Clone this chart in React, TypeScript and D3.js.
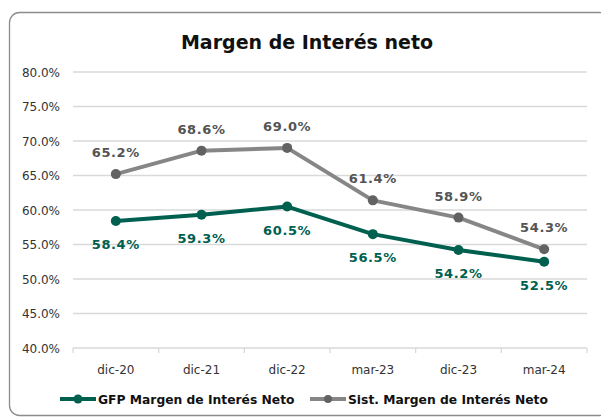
import React from "react";
import * as d3 from "d3";

const categories = ["dic-20", "dic-21", "dic-22", "mar-23", "dic-23", "mar-24"];
const gfpValues = [58.4, 59.3, 60.5, 56.5, 54.2, 52.5];
const sistValues = [65.2, 68.6, 69.0, 61.4, 58.9, 54.3];
const yTicks = [40, 45, 50, 55, 60, 65, 70, 75, 80];
const seriesNames = ["GFP Margen de Interés Neto", "Sist. Margen de Interés Neto"];
const title = "Margen de Interés neto";

const W = 601;
const H = 417;
const GREEN = "#00604F";
const GREY_LINE = "#868686";
const GREY_MARK = "#626262";
const GREY_TEXT = "#545454";
const FONT = "'DejaVu Sans', sans-serif";

export default function App() {
  const x = d3.scaleBand<string>().domain(categories).range([73, 587]);
  const y = d3.scaleLinear().domain([40, 80]).range([348, 72]);
  const cx = (c: string) => (x(c) ?? 0) + x.bandwidth() / 2;
  const line = d3
    .line<number>()
    .x((_, i) => cx(categories[i]))
    .y((d) => y(d));

  const series = [
    { name: seriesNames[0], values: gfpValues, line: GREEN, mark: GREEN, text: GREEN, above: false },
    { name: seriesNames[1], values: sistValues, line: GREY_LINE, mark: GREY_MARK, text: GREY_TEXT, above: true },
  ];

  const ticksX = [...categories.map((c) => x(c) ?? 0), 587];

  return (
    <div style={{ position: "fixed", left: 0, top: 0, width: W, height: H, background: "#fff" }}>
      <svg width={W} height={H} style={{ display: "block", fontFamily: FONT }}>
        <rect x={0} y={0} width={W} height={H} fill="#fff" />
        <rect x={9.5} y={12.5} width={600} height={403} rx={10} ry={10} fill="#fff" stroke="#8c8c8c" strokeWidth={1.3} />
        <text x={307} y={49} textAnchor="middle" fontSize={19} fontWeight="bold" fill="#111">
          {title}
        </text>
        {yTicks.map((t) => (
          <g key={t}>
            <line x1={73} x2={587} y1={y(t)} y2={y(t)} stroke="#d9d9d9" strokeWidth={1.3} />
            <text x={60} y={y(t) + 4.5} textAnchor="end" fontSize={12} fill="#333">
              {t.toFixed(1) + "%"}
            </text>
          </g>
        ))}
        {ticksX.map((tx, i) => (
          <line key={i} x1={tx} x2={tx} y1={348} y2={353} stroke="#d9d9d9" strokeWidth={1.3} />
        ))}
        {categories.map((c) => (
          <text key={c} x={cx(c)} y={374} textAnchor="middle" fontSize={12} fill="#333">
            {c}
          </text>
        ))}
        {series.map((s) => (
          <g key={s.name}>
            <path d={line(s.values) ?? ""} fill="none" stroke={s.line} strokeWidth={4} strokeLinejoin="round" strokeLinecap="round" />
            {s.values.map((v, i) => (
              <circle key={i} cx={cx(categories[i])} cy={y(v)} r={5} fill={s.mark} />
            ))}
            {s.values.map((v, i) => (
              <text
                key={"l" + i}
                x={cx(categories[i])}
                y={s.above ? y(v) - 17 : y(v) + 28}
                textAnchor="middle"
                fontSize={13}
                fontWeight="bold"
                letterSpacing={0.6}
                fill={s.text}
              >
                {v.toFixed(1) + "%"}
              </text>
            ))}
          </g>
        ))}
        <g>
          <line x1={60} x2={96} y1={399} y2={399} stroke={GREEN} strokeWidth={4} />
          <circle cx={78} cy={399} r={4.5} fill={GREEN} />
          <text x={98} y={403.5} fontSize={12.3} fontWeight="bold" fill="#111">
            {seriesNames[0]}
          </text>
          <line x1={310} x2={346} y1={399} y2={399} stroke={GREY_LINE} strokeWidth={4} />
          <circle cx={328} cy={399} r={4} fill={GREY_MARK} />
          <text x={348} y={403.5} fontSize={12.3} fontWeight="bold" fill="#111">
            {seriesNames[1]}
          </text>
        </g>
      </svg>
    </div>
  );
}
